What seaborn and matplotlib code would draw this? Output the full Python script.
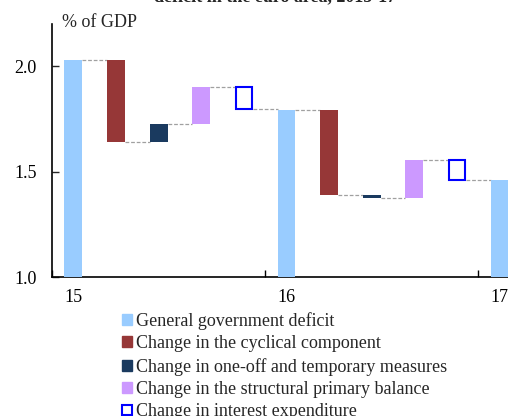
import matplotlib
matplotlib.use("Agg")
import matplotlib.pyplot as plt
from matplotlib.patches import Patch
import seaborn as sns
import pandas as pd

sns.set_style("white")
plt.rcParams['font.family'] = ['Liberation Serif', 'DejaVu Serif']

years = ["15", "16", "17"]
deficit = [2.03, 1.79, 1.46]
cyclical = [-0.39, -0.40]
one_off = [0.085, -0.015]
structural = [0.175, 0.18]
interest = [-0.105, -0.095]

labels = ["General government deficit",
          "Change in the cyclical component",
          "Change in one-off and temporary measures",
          "Change in the structural primary balance",
          "Change in interest expenditure"]
colors = ["#99CCFF", "#963737", "#1A3A5F", "#CC99FF", "#0000FF"]

# build waterfall table
rows = []
slot = 0
for yi in range(len(years)):
    level = deficit[yi]
    rows.append(dict(pos=slot + 0.5, bottom=1.0, top=level, kind=0, end=level))
    slot += 1
    if yi < len(years) - 1:
        for k, ch in enumerate([cyclical[yi], one_off[yi], structural[yi], interest[yi]], start=1):
            new = level + ch
            rows.append(dict(pos=slot + 0.5, bottom=min(level, new), top=max(level, new), kind=k, end=new))
            level = new
            slot += 1
df = pd.DataFrame(rows)

fig = plt.figure(figsize=(5.08, 4.16), dpi=100)
ax = fig.add_axes([52/508, 1 - 277/416, 1 - 52/508 + 0.002, (277 - 24)/416])

w = 0.42
for _, r in df.iterrows():
    k = int(r.kind)
    if k == 4:
        ax.bar(r.pos, r.top - r.bottom, bottom=r.bottom, width=w * 0.9,
               facecolor="white", edgecolor=colors[4], linewidth=1.5, zorder=3)
    else:
        ax.bar(r.pos, r.top - r.bottom, bottom=r.bottom, width=w,
               color=colors[k], linewidth=0, zorder=3)

# connectors
for i in range(len(df) - 1):
    r = df.iloc[i]
    nxt = df.iloc[i + 1]
    ax.plot([r.pos + w/2, nxt.pos - w/2], [r.end, r.end], color="#A0A0A0",
            linestyle=(0, (3, 1.5)), linewidth=0.9, zorder=2)

ax.set_xlim(0, 10.72)
ax.set_ylim(1.0, 2.2)
ax.set_yticks([1.0, 1.5, 2.0])
ax.set_yticklabels(["1.0", "1.5", "2.0"])
ax.set_xticks([0, 5, 10])
ax.set_xticklabels([])
ax.set_xticks([0.5, 5.5, 10.5], minor=True)
ax.set_xticklabels(years, minor=True)
ax.tick_params(axis="x", which="major", direction="in", length=5, width=1, colors="black", bottom=True)
ax.tick_params(axis="x", which="minor", length=0, pad=9, labelsize=13, labelcolor="black")
ax.tick_params(axis="y", direction="in", length=5, width=1, pad=11, labelsize=13, left=True, labelcolor="black")

for s in ["top", "right"]:
    ax.spines[s].set_visible(False)
for s in ["left", "bottom"]:
    ax.spines[s].set_color("black")
    ax.spines[s].set_linewidth(1.2)

fig.text(62/508, 1 - 27/416, "% of GDP", fontsize=13, ha="left", va="baseline")
fig.text(275/508, 1 - 1/416, "deficit in the euro area, 2015-17", fontsize=13,
         fontweight="bold", ha="center", va="baseline")

handles = [Patch(facecolor=colors[i], edgecolor=colors[i]) for i in range(4)]
handles.append(Patch(facecolor="white", edgecolor=colors[4], linewidth=1.5))
fig.legend(handles, labels, loc="upper left", bbox_to_anchor=(122/508, 1 - 312/416),
           frameon=False, fontsize=13, handlelength=0.55, handleheight=0.55,
           handletextpad=0.25, labelspacing=0.3, borderpad=0, borderaxespad=0)

fig.savefig("out.png", dpi=100)
